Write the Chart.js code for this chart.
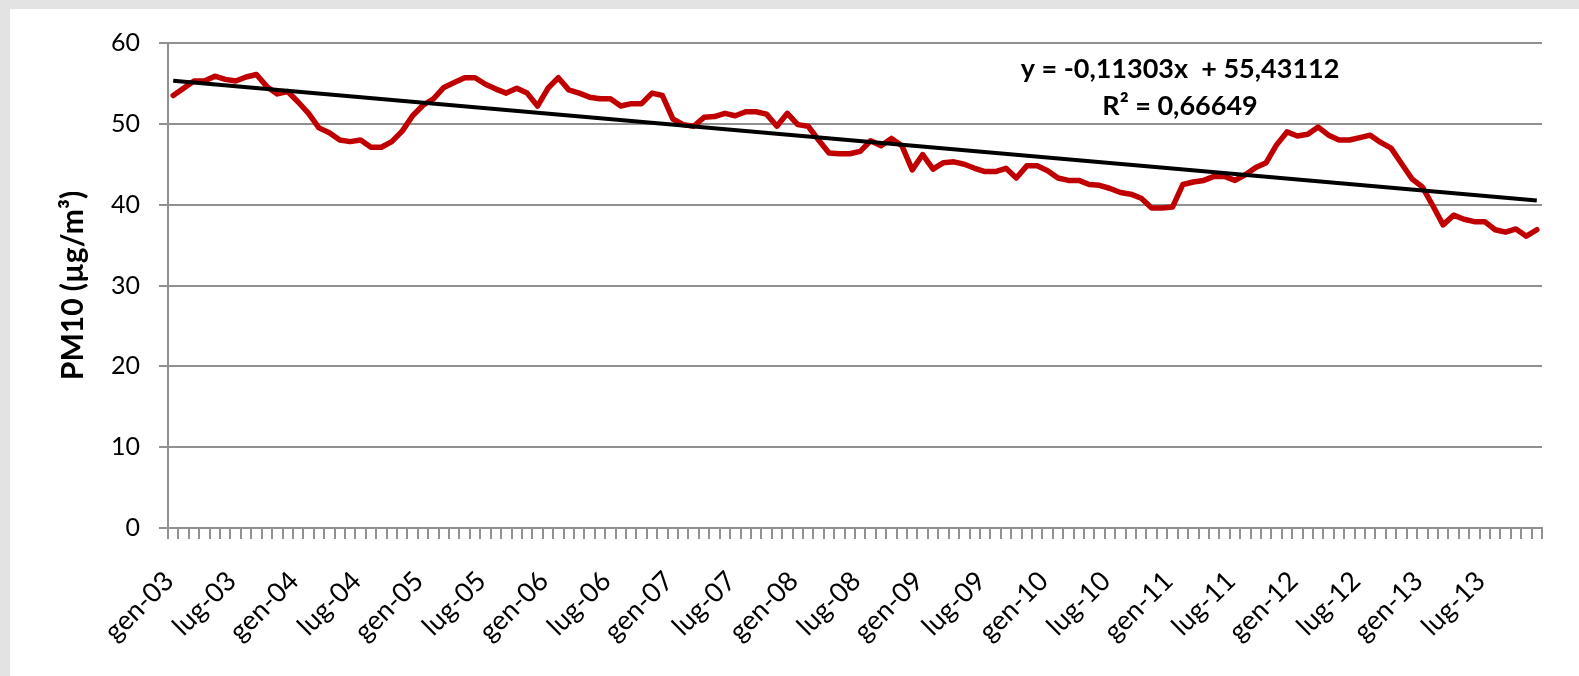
<!DOCTYPE html>
<html>
<head>
<meta charset="utf-8">
<script src="https://cdn.jsdelivr.net/npm/chart.js@4.4.1/dist/chart.umd.min.js"></script>
<style>
  html, body { margin: 0; padding: 0; width: 1579px; height: 676px; overflow: hidden; background: #e3e3e3; }
  #frame { position: absolute; left: 10px; top: 9px; width: 1569px; height: 667px; background: #ffffff; }
  #wrap { position: absolute; left: 0; top: 0; width: 1579px; height: 676px; }
</style>
</head>
<body>
<div id="frame"></div>
<div id="wrap"><canvas id="c" width="1579" height="676"></canvas></div>
<script>
// ---- categories (monthly, Jan 2003 - Dec 2013, Italian month abbreviations) ----
const monthNames = ['gen', 'feb', 'mar', 'apr', 'mag', 'giu', 'lug', 'ago', 'set', 'ott', 'nov', 'dic'];
const years = ['03', '04', '05', '06', '07', '08', '09', '10', '11', '12', '13'];
const categories = [];
years.forEach(y => monthNames.forEach(m => categories.push(m + '-' + y)));

// ---- monthly PM10 values (µg/m³) ----
const pm10 = [
  53.5, 54.4, 55.3, 55.3, 55.9, 55.5, 55.3, 55.8, 56.1, 54.6, 53.7, 54.0,   // 2003
  52.7, 51.3, 49.5, 48.9, 48.0, 47.8, 48.0, 47.1, 47.1, 47.8, 49.1, 51.0,   // 2004
  52.3, 53.1, 54.5, 55.1, 55.7, 55.7, 54.9, 54.3, 53.8, 54.4, 53.8, 52.2,   // 2005
  54.4, 55.7, 54.2, 53.8, 53.3, 53.1, 53.1, 52.2, 52.5, 52.5, 53.8, 53.5,   // 2006
  50.6, 49.9, 49.7, 50.8, 50.9, 51.3, 51.0, 51.5, 51.5, 51.2, 49.7, 51.3,   // 2007
  49.9, 49.7, 48.0, 46.4, 46.3, 46.3, 46.6, 47.9, 47.3, 48.2, 47.3, 44.3,   // 2008
  46.2, 44.4, 45.2, 45.3, 45.0, 44.5, 44.1, 44.1, 44.5, 43.3, 44.8, 44.8,   // 2009
  44.2, 43.3, 43.0, 43.0, 42.5, 42.4, 42.0, 41.5, 41.3, 40.8, 39.6, 39.6,   // 2010
  39.7, 42.5, 42.8, 43.0, 43.5, 43.5, 43.0, 43.7, 44.6, 45.2, 47.4, 49.0,   // 2011
  48.5, 48.7, 49.6, 48.6, 48.0, 48.0, 48.3, 48.6, 47.7, 47.0, 45.1, 43.2,   // 2012
  42.2, 39.9, 37.5, 38.7, 38.2, 37.9, 37.9, 36.9, 36.6, 37.0, 36.1, 36.9    // 2013
];

// ---- linear trend line end points (first and last month) ----
const trendCategories = ['gen-03', 'dic-13'];
const trendValues = [55.32, 40.51];

// ---- y axis ticks & texts ----
const yTicks = [0, 10, 20, 30, 40, 50, 60];
const yTitle = 'PM10 (µg/m³)';
const equationLines = ['y = -0,11303x  + 55,43112', 'R² = 0,66649'];

const GRID = '#909090';
const FONT = 'Lato, "Open Sans", sans-serif';

const equationPlugin = {
  id: 'equation',
  afterDatasetsDraw(chart) {
    const ctx = chart.ctx;
    ctx.save();
    ctx.fillStyle = '#000000';
    ctx.font = 'bold 27px ' + FONT;
    ctx.textAlign = 'center';
    ctx.textBaseline = 'alphabetic';
    ctx.fillText(equationLines[0], 1180, 78);
    ctx.fillText(equationLines[1], 1180, 115);
    ctx.restore();
  }
};

new Chart(document.getElementById('c'), {
  type: 'line',
  data: {
    labels: categories,
    datasets: [
      {
        label: 'PM10',
        data: pm10,
        borderColor: '#c00000',
        borderWidth: 5.5,
        pointRadius: 0,
        tension: 0,
        fill: false,
        borderJoinStyle: 'round',
        borderCapStyle: 'round',
        order: 2
      },
      {
        label: 'Trend',
        data: trendCategories.map((c, i) => ({ x: c, y: trendValues[i] })),
        borderColor: '#000000',
        borderWidth: 4,
        pointRadius: 0,
        tension: 0,
        fill: false,
        order: 1
      }
    ]
  },
  options: {
    responsive: false,
    animation: false,
    events: [],
    layout: { padding: { left: 0, right: 37, top: 43, bottom: 0 } },
    plugins: { legend: { display: false }, tooltip: { enabled: false } },
    scales: {
      x: {
        type: 'category',
        offset: true,
        afterFit: s => { s.height = 148; s.paddingLeft = 0; s.paddingRight = 0; },
        grid: { display: true, offset: true, drawOnChartArea: false, drawTicks: true, tickLength: 11, color: GRID, lineWidth: 2 },
        border: { display: true, color: GRID, width: 2 },
        ticks: {
          autoSkip: false,
          maxRotation: 45,
          minRotation: 45,
          padding: 26,
          labelOffset: -4,
          color: '#000000',
          font: { family: FONT, size: 27 },
          callback: (v, i) => (i % 6 === 0 ? categories[i] : '')
        }
      },
      y: {
        min: 0,
        max: 60,
        afterFit: s => { s.width = 168; },
        afterBuildTicks: s => { s.ticks = yTicks.map(v => ({ value: v })); },
        grid: { color: GRID, lineWidth: 2, drawTicks: true, tickLength: 9 },
        border: { display: true, color: GRID, width: 2 },
        ticks: { padding: 19, color: '#000000', font: { family: FONT, size: 25 } },
        title: {
          display: true,
          text: yTitle,
          color: '#000000',
          font: { family: FONT, size: 30, weight: 'bold' },
          padding: { top: 55, bottom: 0 }
        }
      }
    }
  },
  plugins: [equationPlugin]
});
</script>
</body>
</html>
